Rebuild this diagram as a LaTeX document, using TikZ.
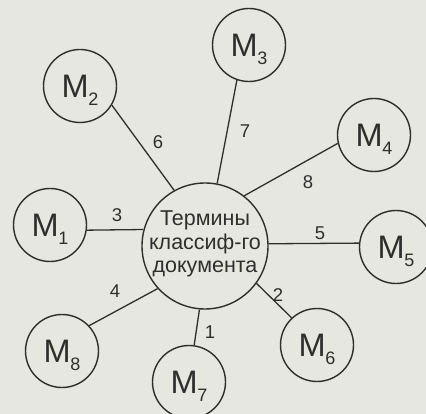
\documentclass[tikz,border=0pt]{standalone}
\usepackage{fontspec}
\setmainfont{Liberation Sans}
\definecolor{paper}{RGB}{231,231,225}
\definecolor{ink}{RGB}{46,46,44}
\tikzset{
  every node/.style={text=ink},
  hub/.style={circle,draw=ink,line width=1.4pt,inner sep=0pt,minimum size=126pt},
  leaf/.style={circle,draw=ink,line width=1.4pt,inner sep=0pt,minimum size=73pt},
  leaftext/.style={anchor=base,inner sep=0pt,font=\fontsize{32.5}{32.5}\selectfont},
  link/.style={draw=ink,line width=1.3pt},
  linklabel/.style={inner sep=0pt,font=\fontsize{18.5}{18.5}\selectfont},
}
\newcommand{\msub}[1]{M\kern-0.5pt\raisebox{-8pt}{\fontsize{18}{18}\selectfont #1}}
\begin{document}
\begin{tikzpicture}[x=1pt,y=-1pt]
  \fill[paper] (0,0) rectangle (426,414);
  \useasboundingbox (0,0) rectangle (426,414);

  % central circle
  \node[hub] (C) at (205,246) {};
  \node[align=center,inner sep=0pt,font=\fontsize{21.5}{23.5}\selectfont] (Ct) at (205,244)
    {Термины\\классиф-го\\документа};

  % outer circles
  \node[leaf] (M1) at (50,225) {};
  \node[leaf] (M2) at (80,86) {};
  \node[leaf] (M3) at (249,45) {};
  \node[leaf] (M4) at (374,135) {};
  \node[leaf] (M5) at (396,247) {};
  \node[leaf] (M6) at (317,345) {};
  \node[leaf] (M7) at (189,382) {};
  \node[leaf] (M8) at (62,351) {};

  % circle captions
  \node[leaftext] (T1) at (50,236.5) {\msub{1}};
  \node[leaftext] (T2) at (80,97.5) {\msub{2}};
  \node[leaftext] (T3) at (249,56.5) {\msub{3}};
  \node[leaftext] (T4) at (374,146.5) {\msub{4}};
  \node[leaftext] (T5) at (396,258.5) {\msub{5}};
  \node[leaftext] (T6) at (317,356.5) {\msub{6}};
  \node[leaftext] (T7) at (189,393.5) {\msub{7}};
  \node[leaftext] (T8) at (62,362.5) {\msub{8}};

  % connectors
  \draw[link] (C.165.5) -- (M1.-8);
  \draw[link] (C.119) -- (M2.-31);
  \draw[link] (C.79.5) -- (M3.-109);
  \draw[link] (C.52) -- (M4.-167.5);
  \draw[link] (C.2.7) -- (M5.174);
  \draw[link] (C.-36.7) -- (M6.133);
  \draw[link] (C.-95.6) -- (M7.82);
  \draw[link] (C.-138.8) -- (M8.43);

  % connector numbers
  \node[linklabel] (L1) at (210,332) {1};
  \node[linklabel] (L2) at (278,295) {2};
  \node[linklabel] (L3) at (117,215) {3};
  \node[linklabel] (L4) at (115,291) {4};
  \node[linklabel] (L5) at (320,233) {5};
  \node[linklabel] (L6) at (158,142) {6};
  \node[linklabel] (L7) at (245,131) {7};
  \node[linklabel] (L8) at (308,182) {8};
\end{tikzpicture}
\end{document}
